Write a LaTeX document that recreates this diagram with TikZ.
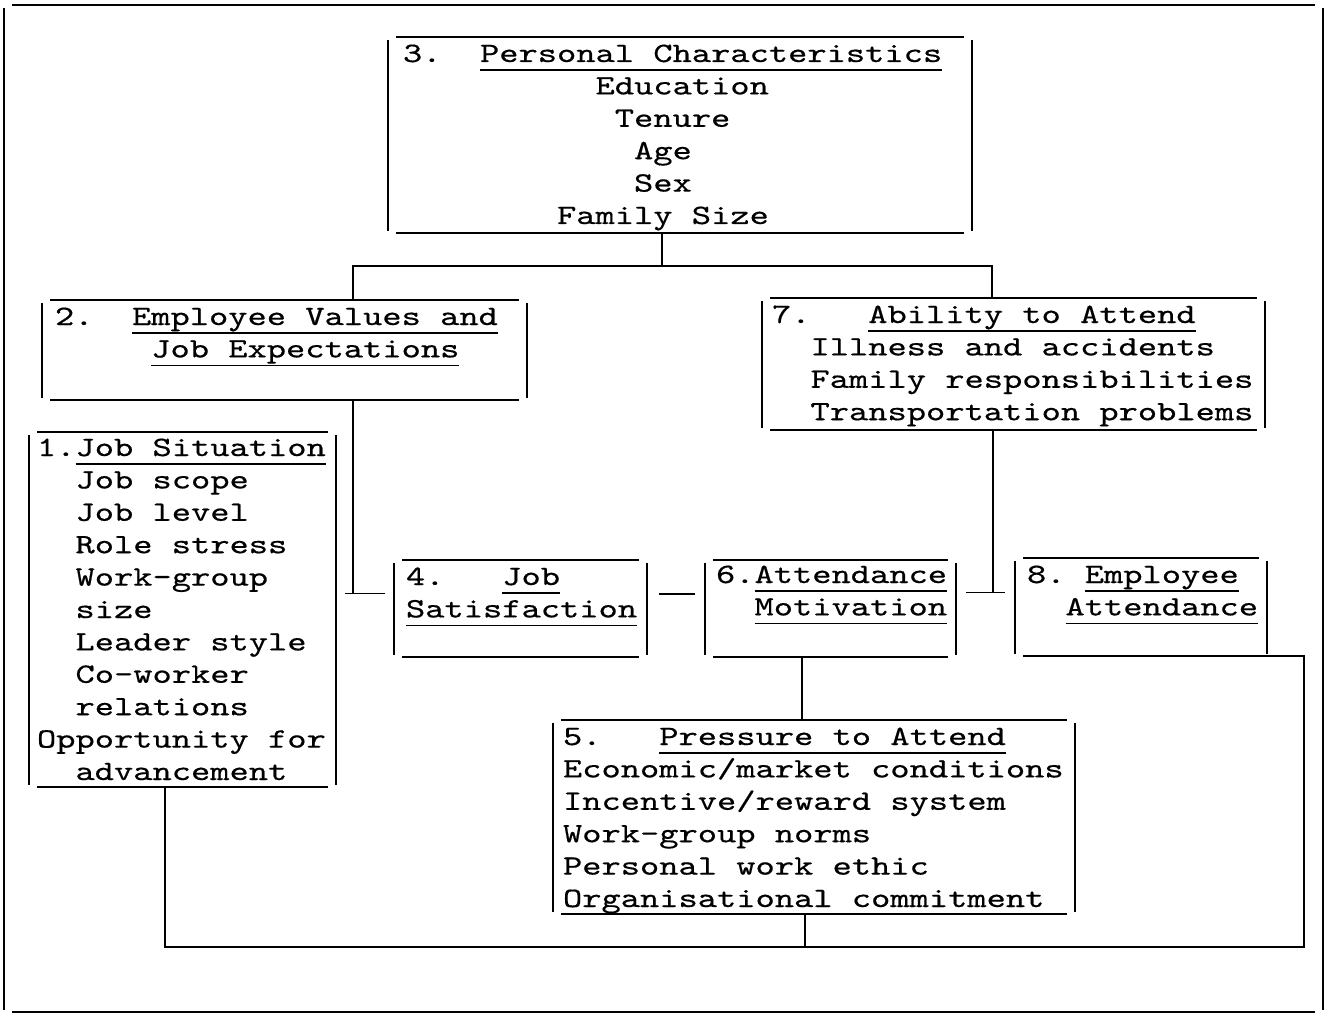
\documentclass[tikz,border=0pt]{standalone}
\usepackage{fontspec}
\newfontfamily\tw[FakeStretch=1.31,FakeBold=0.5]{lmmono10-regular.otf}
\newcommand\ind[1]{\hspace*{#1\fontcharwd\font`x}}
\newcommand\uln[1]{\setbox0\hbox{#1}\rlap{\rule[-9pt]{\wd0}{1.6pt}}\box0}
\newcommand\tlines[1]{\begin{tabular}[t]{@{}l@{}}#1\end{tabular}}
\tikzset{
  edge/.style={line width=1.8pt},
  conn/.style={line width=1.6pt},
  tbox/.style={draw=none, inner sep=0pt, outer sep=0pt, append after command={
    \pgfextra{\let\bx\tikzlastnode
      \draw[edge] ([xshift=8pt]\bx.north west) -- ([xshift=-8pt]\bx.north east);
      \draw[edge] ([xshift=8pt]\bx.south west) -- ([xshift=-8pt]\bx.south east);
      \draw[edge] ([yshift=-3pt]\bx.north west) -- ([yshift=2pt]\bx.south west);
      \draw[edge] ([yshift=-3pt]\bx.north east) -- ([yshift=2pt]\bx.south east);
    }}},
  txt/.style={anchor=base west, inner sep=0pt, outer sep=0pt,
    font=\tw\fontsize{28pt}{32.4pt}\selectfont}
}
\begin{document}
\begin{tikzpicture}[x=1pt, y=-1pt]
\useasboundingbox (0,0) rectangle (1331,1014);
\fill[white] (0,0) rectangle (1331,1014);

% outer frame
\node[tbox, minimum width=1319pt, minimum height=1007pt] (frame) at (663.5,508.5) {};

% boxes
\node[tbox, minimum width=584pt, minimum height=196pt] (b3) at (680,135) {};
\node[tbox, minimum width=485pt, minimum height=100pt] (b2) at (284.5,350) {};
\node[tbox, minimum width=503pt, minimum height=132pt] (b7) at (1013.5,364) {};
\node[tbox, minimum width=307pt, minimum height=355pt] (b1) at (182.5,609.5) {};
\node[tbox, minimum width=253pt, minimum height=97pt] (b4) at (520.5,608.5) {};
\node[tbox, minimum width=251pt, minimum height=97pt] (b6) at (830.5,608.5) {};
\node[tbox, minimum width=252pt, minimum height=98pt] (b8) at (1141,607) {};
\node[tbox, minimum width=522pt, minimum height=194pt] (b5) at (814,817) {};

% texts
\node[txt] (t3) at (403,62) {\tlines{3.\ind{2}\uln{Personal Characteristics}\\
\ind{10}Education\\ \ind{11}Tenure\\ \ind{12}Age\\ \ind{12}Sex\\ \ind{8}Family Size}};
\node[txt] (t2) at (55,325) {\tlines{2.\ind{2}\uln{Employee Values and}\\ \ind{5}\uln{Job Expectations}}};
\node[txt] (t7) at (772,323) {\tlines{7.\ind{3}\uln{Ability to Attend}\\
\ind{2}Illness and accidents\\ \ind{2}Family responsibilities\\ \ind{2}Transportation problems}};
\node[txt] (t1) at (37,456) {\tlines{1.\uln{Job Situation}\\ \ind{2}Job scope\\ \ind{2}Job level\\
\ind{2}Role stress\\ \ind{2}Work-group\\ \ind{2}size\\ \ind{2}Leader style\\
\ind{2}Co-worker\\ \ind{2}relations\\ Opportunity for\\ \ind{2}advancement}};
\node[txt] (t4) at (406,585) {\tlines{4.\ind{3}\uln{Job}\\ \uln{Satisfaction}}};
\node[txt] (t6) at (716,583) {\tlines{6.\uln{Attendance}\\ \ind{2}\uln{Motivation}}};
\node[txt] (t8) at (1027,583) {\tlines{8.\ind{1}\uln{Employee}\\ \ind{2}\uln{Attendance}}};
\node[txt] (t5) at (563,745) {\tlines{5.\ind{3}\uln{Pressure to Attend}\\
Economic/market conditions\\ Incentive/reward system\\ Work-group norms\\
Personal work ethic\\ Organisational commitment}};

% connectors
\draw[conn] ([xshift=-18pt]b3.south) -- ++(0,33) coordinate (j3);
\draw[conn] ([xshift=68.5pt]b2.north) |- (j3) -| ([xshift=-21.5pt]b7.north);

\coordinate (j24) at ([xshift=-9pt,yshift=15pt]b4.west);
\draw[conn] ([xshift=68.5pt]b2.south) |- (j24);
\draw[conn] (j24) -- ([xshift=60pt]b2.south |- j24);

\draw[conn] ([xshift=12pt,yshift=14.5pt]b4.east) -- ([xshift=-10pt,yshift=14.5pt]b6.west);

\coordinate (j68) at ([xshift=10pt,yshift=16pt]b6.east);
\coordinate (e8) at ([xshift=-10pt]b8.west);
\draw[conn] ([xshift=-20.5pt]b7.south) -- ([xshift=-20.5pt]b7.south |- j68);
\draw[conn] (j68) -- (j68 -| e8);

\draw[conn] ([xshift=-28.5pt]b6.south) -- ([xshift=-28.5pt]b6.south |- b5.north);

\coordinate (busy) at ([yshift=-33pt]b5.south);
\coordinate (k8) at ([xshift=37pt]b8.south east);
\draw[conn] ([xshift=-17.5pt]b1.south) |- (k8 |- busy) -- (k8) -- ([xshift=-8pt]b8.south east);
\draw[conn] ([xshift=-9pt]b5.south) -- ([xshift=-9pt]b5.south |- busy);
\end{tikzpicture}
\end{document}
